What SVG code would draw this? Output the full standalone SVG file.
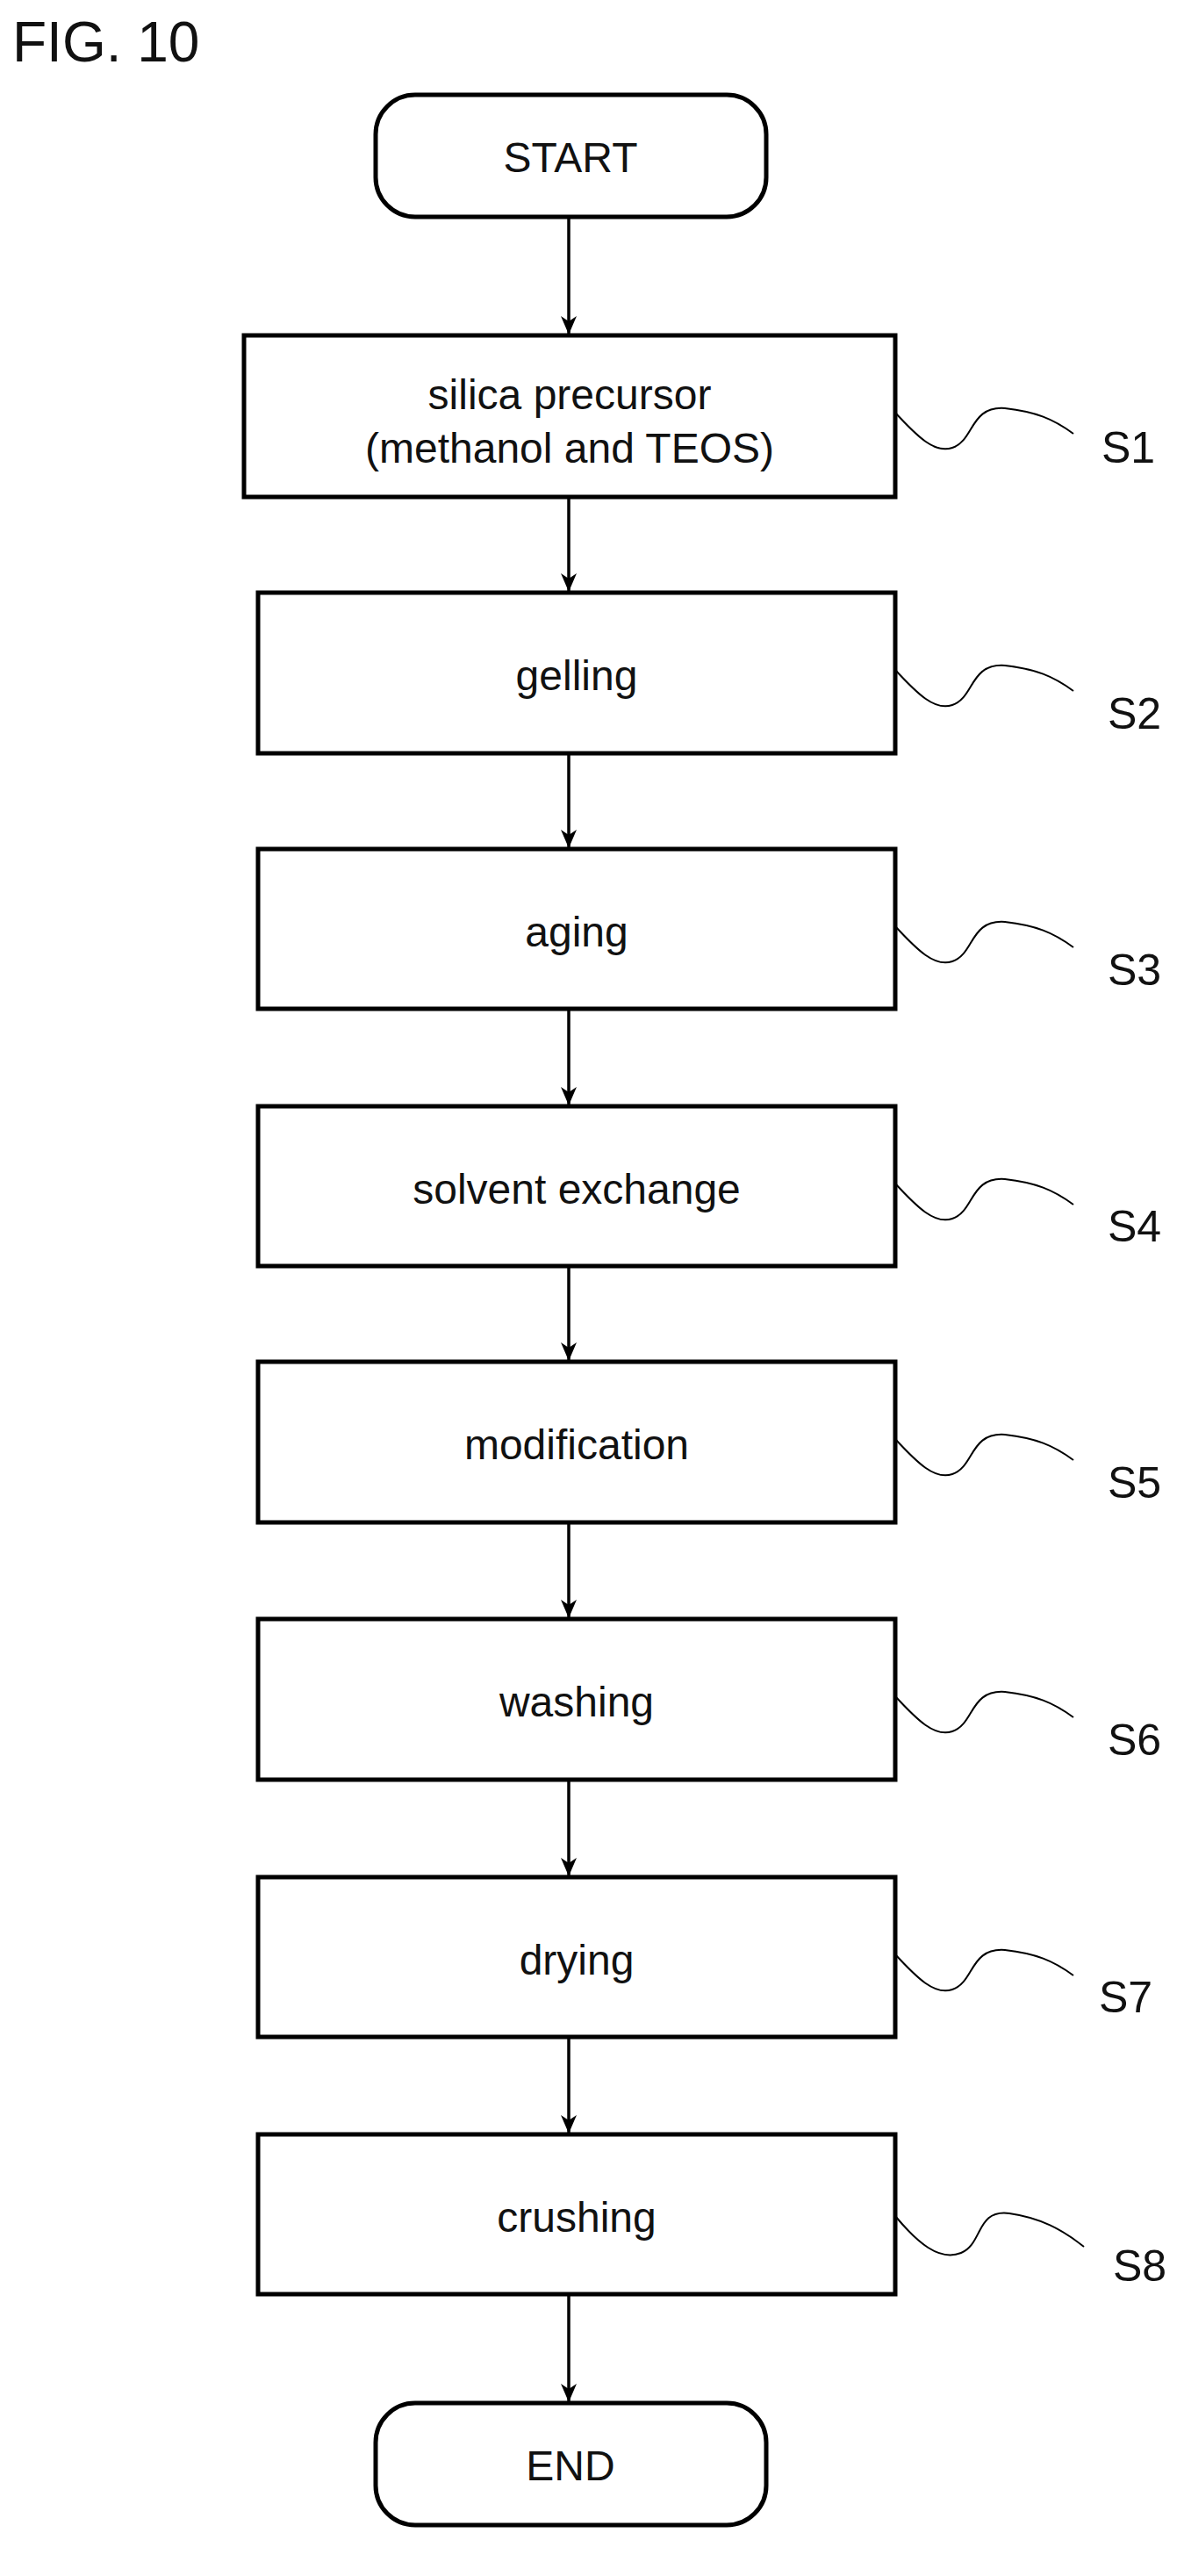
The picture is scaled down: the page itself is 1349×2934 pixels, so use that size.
<svg xmlns="http://www.w3.org/2000/svg" width="1349" height="2934" viewBox="0 0 1349 2934">
<style>
.b{fill:#fff;stroke:#000;stroke-width:5}
.t{font-family:"Liberation Sans",Arial,sans-serif;font-size:48px;text-anchor:middle;fill:#111}
.l{font-family:"Liberation Sans",Arial,sans-serif;font-size:50px;fill:#111}
.c{stroke:#000;stroke-width:3.5;fill:none}
.q{stroke:#000;stroke-width:2;fill:none}
</style>
<defs><marker id="a" markerWidth="22" markerHeight="20" refX="20" refY="10" orient="auto" markerUnits="userSpaceOnUse" viewBox="0 0 22 20"><path d="M0,1 L21,10 L0,19 L6,10 Z" fill="#000"/></marker></defs>
<text x="14" y="70" style="font-family:'Liberation Sans',Arial,sans-serif;font-size:64px;fill:#111">FIG. 10</text>
<g id="connectors">
<line class="c" x1="648" y1="247" x2="648" y2="380" marker-end="url(#a)"/>
<line class="c" x1="648" y1="566" x2="648" y2="673" marker-end="url(#a)"/>
<line class="c" x1="648" y1="858" x2="648" y2="965" marker-end="url(#a)"/>
<line class="c" x1="648" y1="1149" x2="648" y2="1258" marker-end="url(#a)"/>
<line class="c" x1="648" y1="1442" x2="648" y2="1549" marker-end="url(#a)"/>
<line class="c" x1="648" y1="1734" x2="648" y2="1842" marker-end="url(#a)"/>
<line class="c" x1="648" y1="2027" x2="648" y2="2136" marker-end="url(#a)"/>
<line class="c" x1="648" y1="2320" x2="648" y2="2429" marker-end="url(#a)"/>
<line class="c" x1="648" y1="2613" x2="648" y2="2735" marker-end="url(#a)"/>
</g>
<g id="start"><rect class="b" x="428" y="108" width="445" height="139" rx="45"/><text class="t" x="650" y="196">START</text></g>
<g id="s1"><rect class="b" x="278" y="382" width="742" height="184"/><text class="t" x="649" y="466">silica precursor</text><text class="t" x="649" y="527">(methanol and TEOS)</text>
<path class="q" d="M1020,470 C1045,497 1065,517 1085,510 C1110,502 1105,462 1145,465 C1180,469 1200,477 1223,494"/><text class="l" x="1255" y="527">S1</text></g>
<g id="s2"><rect class="b" x="294" y="675" width="726" height="183"/><text class="t" x="657" y="786">gelling</text>
<path class="q" d="M1020,763 C1045,790 1065,810 1085,803 C1110,795 1105,755 1145,758 C1180,762 1200,770 1223,787"/><text class="l" x="1262" y="830">S2</text></g>
<g id="s3"><rect class="b" x="294" y="967" width="726" height="182"/><text class="t" x="657" y="1078">aging</text>
<path class="q" d="M1020,1055 C1045,1082 1065,1102 1085,1095 C1110,1087 1105,1047 1145,1050 C1180,1054 1200,1062 1223,1079"/><text class="l" x="1262" y="1122">S3</text></g>
<g id="s4"><rect class="b" x="294" y="1260" width="726" height="182"/><text class="t" x="657" y="1371">solvent exchange</text>
<path class="q" d="M1020,1348 C1045,1375 1065,1395 1085,1388 C1110,1380 1105,1340 1145,1343 C1180,1347 1200,1355 1223,1372"/><text class="l" x="1262" y="1414">S4</text></g>
<g id="s5"><rect class="b" x="294" y="1551" width="726" height="183"/><text class="t" x="657" y="1662">modification</text>
<path class="q" d="M1020,1639 C1045,1666 1065,1686 1085,1679 C1110,1671 1105,1631 1145,1634 C1180,1638 1200,1646 1223,1663"/><text class="l" x="1262" y="1706">S5</text></g>
<g id="s6"><rect class="b" x="294" y="1844" width="726" height="183"/><text class="t" x="657" y="1955">washing</text>
<path class="q" d="M1020,1932 C1045,1959 1065,1979 1085,1972 C1110,1964 1105,1924 1145,1927 C1180,1931 1200,1939 1223,1956"/><text class="l" x="1262" y="1999">S6</text></g>
<g id="s7"><rect class="b" x="294" y="2138" width="726" height="182"/><text class="t" x="657" y="2249">drying</text>
<path class="q" d="M1020,2226 C1045,2253 1065,2273 1085,2266 C1110,2258 1105,2218 1145,2221 C1180,2225 1200,2233 1223,2250"/><text class="l" x="1252" y="2292">S7</text></g>
<g id="s8"><rect class="b" x="294" y="2431" width="726" height="182"/><text class="t" x="657" y="2542">crushing</text>
<path class="q" d="M1020,2524 C1045,2554 1070,2576 1095,2566 C1120,2556 1112,2516 1150,2521 C1185,2526 1210,2539 1235,2559"/><text class="l" x="1268" y="2598">S8</text></g>
<g id="end"><rect class="b" x="428" y="2737" width="445" height="139" rx="45"/><text class="t" x="650" y="2825">END</text></g>
</svg>
